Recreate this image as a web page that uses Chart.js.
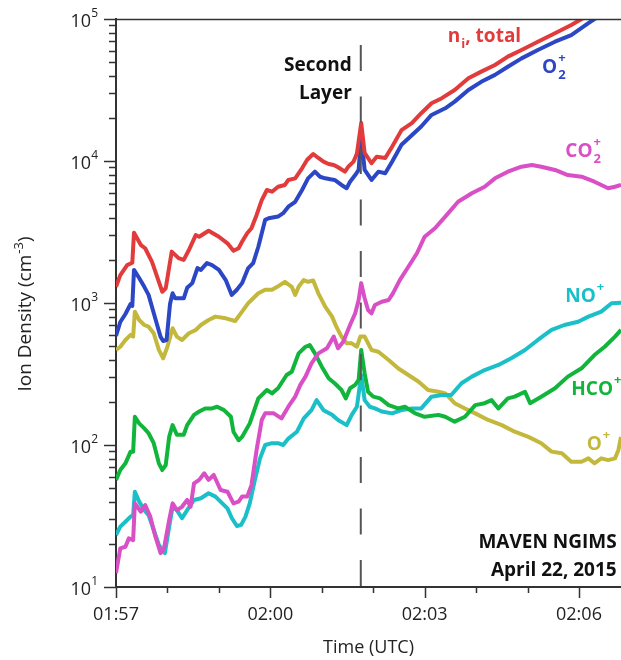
<!DOCTYPE html>
<html>
<head>
<meta charset="utf-8">
<script src="https://cdn.jsdelivr.net/npm/chart.js@4"></script>
<style>
  html, body { margin: 0; padding: 0; background: #fff; }
  #wrap { width: 621px; height: 660px; }
</style>
</head>
<body>
<div id="wrap"><canvas id="chart" width="621" height="660"></canvas></div>
<script>
// time is in seconds after 01:57:00 UTC, densities in cm^-3
const totalT = [0,5,13,19,21,29,34,42,50,54,58,65,73,79,85,93,97,108,120,130,137,143,147,153,158,164,170,176,182,189,197,201,209,217,223,230,236,242,248,254,259,267,271,277,281,286,290,298,304,314,322,333,345,356,368,380,395,411,426,442,457,473,492,512,531,543,560];
const totalN = [1300,1570,1850,1920,3130,2560,2430,1950,1410,1200,1270,2300,2070,2010,2360,3010,2930,3230,2930,2630,2330,2430,2700,3100,3360,4170,5310,6250,6080,6590,6780,7350,7550,8890,10200,11200,10500,9890,9530,9380,9030,8410,9120,9890,11300,18500,11400,9640,10700,10500,12600,16500,18500,21700,25500,27700,31600,38200,42600,47400,54300,60500,69200,79300,90800,100000,112000];

const o2T = [0,5,11,17,19,21,27,33,38,43,48,52,55,59,63,66,69,79,83,89,95,99,106,112,120,128,135,141,147,154,160,166,174,178,189,195,201,209,217,224,232,238,244,250,255,263,269,273,279,283,286,290,298,306,314,322,333,345,356,368,384,395,411,426,442,457,473,492,512,531,551,558,576];
const o2N = [586,735,837,984,953,1710,1500,1300,1140,893,700,577,540,549,984,1170,1080,1080,1280,1380,1760,1710,1910,1850,1710,1450,1140,1240,1380,1750,1910,2490,3850,3950,4060,4290,4770,5160,6250,7550,8410,7750,7550,7430,7350,6780,6430,7150,7960,8650,15200,8650,7350,8410,8190,9890,13000,15200,17500,21100,23500,26200,31600,36100,40400,46100,52800,60500,69200,77100,93400,100000,112000];

const co2T = [0,5,11,15,20,22,29,34,40,46,52,56,62,66,71,77,83,87,91,97,103,108,114,122,130,137,143,147,153,158,164,170,174,184,193,201,209,215,221,228,236,246,254,259,265,273,279,283,286,290,294,298,302,310,318,323,331,341,351,360,372,384,399,415,430,442,457,473,485,496,512,527,543,558,574,582,589];
const co2N = [12.5,18.7,19.2,22.0,21.4,38.8,33.9,37.8,31.3,22.6,17.3,18.7,29.6,38.8,34.8,36.7,41.0,36.7,53.7,56.8,63.2,56.8,61.5,48.2,46.9,38.8,39.9,43.3,43.3,52.2,92.3,150,167,167,154,186,219,265,303,376,442,480,580,480,533,700,846,1050,1380,1080,893,846,968,1020,1050,1170,1450,1800,2240,2930,3360,4060,5160,5930,6590,7550,8410,9120,9380,9120,8650,7960,7750,7150,6430,6590,6780];

const noT = [0,5,11,17,20,22,27,33,38,44,50,57,62,66,71,77,83,91,99,108,116,124,130,135,141,146,151,156,162,168,174,182,189,195,201,211,219,228,234,242,252,259,269,275,281,286,290,296,302,310,322,333,345,356,368,380,391,403,415,430,446,461,477,492,508,523,539,551,566,578,589];
const noN = [23.2,26.6,28.8,31.3,32.1,46.9,39.9,34.8,32.1,25.2,19.8,17.3,26.6,36.7,34.8,30.5,34.8,41.0,42.2,45.7,43.3,38.8,35.8,30.6,26.9,27.4,31.3,38.8,56.8,80.5,100,103,103,100,111,124,154,176,207,176,163,150,138,163,186,311,207,186,181,172,167,176,181,181,219,225,225,272,303,337,366,408,467,549,646,700,738,802,869,995,1005];

const hcoT = [0,5,11,17,20,22,27,33,38,44,50,54,58,62,66,71,79,83,91,97,104,112,118,126,134,137,143,147,156,166,176,182,189,199,205,213,221,226,232,240,248,255,263,268,273,279,283,286,290,294,300,308,318,329,337,349,360,376,384,395,407,419,430,438,446,457,465,477,483,496,512,527,543,558,570,582,589];
const hcoN = [56.8,66.7,74.3,89.8,89.8,158,142,131,121,103,74.3,66.7,72.3,114,138,118,118,138,163,172,181,181,186,176,158,124,108,114,142,213,244,231,251,311,328,442,492,506,442,356,295,272,244,213,251,265,287,467,320,237,219,213,191,181,186,167,158,163,158,146,158,191,197,207,181,213,219,237,197,219,251,303,347,430,492,580,646];

const oT = [0,5,11,17,20,22,27,33,38,44,50,55,60,66,71,77,85,93,99,108,116,128,139,147,154,160,166,174,182,188,197,205,209,213,219,224,230,236,244,252,257,263,269,275,281,285,290,298,306,318,329,341,353,364,376,384,395,407,419,434,450,465,481,496,508,520,531,543,551,558,566,574,582,586,589];
const oN = [467,492,549,596,580,869,759,700,681,612,467,408,492,664,580,549,612,646,700,759,802,780,747,869,995,1080,1170,1240,1240,1300,1410,1300,1140,1300,1450,1410,1440,1170,942,802,681,580,520,520,492,580,580,467,454,397,347,311,279,244,237,231,197,181,167,150,138,124,114,103,89.8,87.5,76.2,76.2,80.5,74.3,80.5,78.3,80.5,92.3,114];

// second layer marker
const layerT = 285.5;
const layerTop = 65600;

// axis ticks
const xTicks = [0,60,120,180,240,300,360,420,480,540];
const xLabelEvery = 180;
const yTicks = [];
for (let d = 10; d <= 100000; d *= 10) for (let m = 1; m <= 9; m++) if (d * m <= 100000) yTicks.push(d * m);

const RED = "#e23b3b", BLUE = "#2c47c5", MAGENTA = "#d94fc6";
const CYAN = "#1bbfc7", GREEN = "#12b53b", OLIVE = "#c3b83b";
const AXIS = "#333";
const FONT = "'Open Sans', 'DejaVu Sans', sans-serif";

const speciesTags = [
  { color: RED,     t: 387, v: 68900, parts: [["n", 0], ["i", -1], [", total", 0]] },
  { color: BLUE,    t: 497, v: 41700, parts: [["O", 0], ["2", -1], ["+", 1]] },
  { color: MAGENTA, t: 524, v: 10700, parts: [["CO", 0], ["2", -1], ["+", 1]] },
  { color: CYAN,    t: 524, v: 1020,  parts: [["NO", 0], ["+", 1]] },
  { color: GREEN,   t: 531, v: 225,   parts: [["HCO", 0], ["+", 1]] },
  { color: OLIVE,   t: 549, v: 92.3,  parts: [["O", 0], ["+", 1]] },
];
const notes = [
  { text: "Second", t: 275, v: 43300 },
  { text: "Layer", t: 275, v: 27400 },
  { text: "MAVEN NGIMS", t: 584, v: 18.8 },
  { text: "April 22, 2015", t: 584, v: 11.9 },
];

const pts = (ts, ns) => ts.map((t, i) => ({ x: t, y: ns[i] }));

function clock(sec) {
  const m = 117 + sec / 60;
  const hh = String(Math.floor(m / 60)).padStart(2, "0");
  const mm = String(Math.round(m % 60)).padStart(2, "0");
  return `${hh}:${mm}`;
}

const isDecade = (v) => Math.abs(Math.log10(v) - Math.round(Math.log10(v))) < 1e-9;

function drawParts(ctx, parts, x, y) {
  let cx = x, subStart = null;
  parts.forEach(([txt, pos]) => {
    ctx.font = pos === 0 ? `bold 19px ${FONT}` : `bold 13px ${FONT}`;
    const dy = pos === -1 ? 6 : pos === 1 ? -11 : 0;
    const sx = (pos === 1 && subStart !== null) ? subStart : cx + (pos ? 1 : 0);
    ctx.fillText(txt, sx, y + dy);
    const end = sx + ctx.measureText(txt).width;
    subStart = pos === -1 ? sx : null;
    cx = Math.max(cx, end);
  });
}

const frame = {
  id: "frame",
  afterDraw(chart) {
    const { ctx, chartArea: a, scales: { x, y } } = chart;
    ctx.save();
    ctx.strokeStyle = AXIS;
    ctx.lineWidth = 1.5;
    ctx.beginPath();
    ctx.moveTo(a.left, a.top + 0.5); ctx.lineTo(a.right, a.top + 0.5);
    x.ticks.forEach((tk) => {
      const px = Math.round(x.getPixelForValue(tk.value)) + 0.5;
      const len = tk.value % xLabelEvery === 0 ? 11 : 6;
      ctx.moveTo(px, a.bottom); ctx.lineTo(px, a.bottom + len);
    });
    y.ticks.forEach((tk) => {
      const py = Math.round(y.getPixelForValue(tk.value)) + 0.5;
      const len = isDecade(tk.value) ? 12 : 7;
      ctx.moveTo(a.left - len, py); ctx.lineTo(a.left, py);
    });
    ctx.stroke();

    // decade labels 10^n
    ctx.fillStyle = "#222";
    ctx.textAlign = "right";
    ctx.textBaseline = "alphabetic";
    y.ticks.filter((tk) => isDecade(tk.value)).forEach((tk) => {
      const py = y.getPixelForValue(tk.value);
      const exp = String(Math.round(Math.log10(tk.value)));
      ctx.font = `12px ${FONT}`;
      ctx.fillText(exp, 98, py - 2);
      const ew = ctx.measureText(exp).width;
      ctx.font = `18px ${FONT}`;
      ctx.fillText("10", 98 - ew, py + 8);
    });

    // y axis title, centred a little below the middle like the original
    ctx.save();
    ctx.translate(31, (a.top + a.bottom) / 2 + 11);
    ctx.rotate(-Math.PI / 2);
    ctx.textAlign = "left";
    ctx.font = `19px ${FONT}`;
    const main = "Ion Density (cm";
    ctx.font = `13px ${FONT}`;
    const supW = ctx.measureText("-3").width;
    ctx.font = `19px ${FONT}`;
    const total = ctx.measureText(main).width + supW + 1 + ctx.measureText(")").width;
    let cx = -total / 2;
    ctx.fillText(main, cx, 0);
    cx += ctx.measureText(main).width + 1;
    ctx.font = `13px ${FONT}`;
    ctx.fillText("-3", cx, -8);
    cx += supW;
    ctx.font = `19px ${FONT}`;
    ctx.fillText(")", cx, 0);
    ctx.restore();

    // species tags
    ctx.textAlign = "left";
    speciesTags.forEach((s) => {
      ctx.fillStyle = s.color;
      drawParts(ctx, s.parts, x.getPixelForValue(s.t), y.getPixelForValue(s.v));
    });

    // notes
    ctx.fillStyle = "#111";
    ctx.textAlign = "right";
    ctx.font = `bold 19px ${FONT}`;
    notes.forEach((n) => ctx.fillText(n.text, x.getPixelForValue(n.t), y.getPixelForValue(n.v)));
    ctx.restore();
  },
};

const line = (label, data, color) => ({
  label, data, borderColor: color, borderWidth: 4, pointRadius: 0,
  tension: 0, fill: false, clip: 0, borderJoinStyle: "round",
});

new Chart(document.getElementById("chart"), {
  type: "line",
  data: {
    datasets: [
      { label: "layer", data: [{ x: layerT, y: layerTop }, { x: layerT, y: 10 }],
        borderColor: "#555", borderWidth: 2, borderDash: [26, 25.5], pointRadius: 0, clip: 0 },
      line("total", pts(totalT, totalN), RED),
      line("O2+", pts(o2T, o2N), BLUE),
      line("CO2+", pts(co2T, co2N), MAGENTA),
      line("HCO+", pts(hcoT, hcoN), GREEN),
      line("NO+", pts(noT, noN), CYAN),
      line("O+", pts(oT, oN), OLIVE),
    ],
  },
  options: {
    responsive: false,
    animation: false,
    devicePixelRatio: 1,
    layout: { padding: { top: 19, left: 0, right: 0, bottom: 0 } },
    plugins: { legend: { display: false }, tooltip: { enabled: false } },
    scales: {
      x: {
        type: "linear", min: 0, max: 589,
        afterBuildTicks: (s) => { s.ticks = xTicks.map((v) => ({ value: v })); },
        afterFit: (s) => { s.height = 73; },
        grid: { display: false },
        border: { display: true, color: AXIS, width: 2 },
        ticks: {
          autoSkip: false, maxRotation: 0, padding: 9, color: "#222",
          font: { family: FONT, size: 18 },
          callback: (v) => (v % xLabelEvery === 0 ? clock(v) : ""),
        },
        title: { display: true, text: "Time (UTC)", color: "#222",
          font: { family: FONT, size: 18 }, padding: { top: 0, bottom: 1 } },
      },
      y: {
        type: "logarithmic", min: 10, max: 100000,
        afterBuildTicks: (s) => { s.ticks = yTicks.map((v) => ({ value: v })); },
        afterFit: (s) => { s.width = 116; },
        grid: { display: false },
        border: { display: true, color: AXIS, width: 2 },
        ticks: { display: false },
        title: { display: false },
      },
    },
  },
  plugins: [frame],
});
</script>
</body>
</html>
